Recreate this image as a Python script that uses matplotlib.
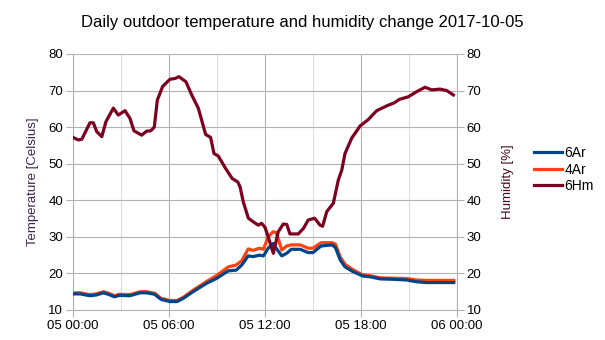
import matplotlib
matplotlib.use("Agg")
import matplotlib.pyplot as plt
from matplotlib.lines import Line2D

plt.rcParams['font.family'] = ['Liberation Sans', 'DejaVu Sans']

title = "Daily outdoor temperature and humidity change 2017-10-05"
series_names = ["6Ar", "4Ar", "6Hm"]
colors = ["#004586", "#ff420e", "#7e0021"]

# hours since 05 00:00
temp_hours = [0, 0.45, 1.05, 1.45, 1.9, 2.2, 2.6, 2.9, 3.55, 4.2, 4.6, 5.1, 5.5, 6.05, 6.5,
              6.9, 7.5, 8.35, 9.0, 9.7, 10.2, 10.55, 10.95, 11.25, 11.65, 11.9, 12.2, 12.5,
              12.7, 13.05, 13.35, 13.65, 14.2, 14.7, 15.0, 15.5, 16.2, 16.4, 16.7, 17.0,
              17.5, 18.1, 18.55, 19.2, 20.0, 20.85, 21.5, 22.1, 23.8]
temp_6Ar = [14.4, 14.4, 13.9, 14.1, 14.7, 14.3, 13.6, 14.0, 13.9, 14.7, 14.7, 14.3, 12.9,
            12.3, 12.3, 13.2, 15.0, 17.3, 18.7, 20.7, 20.9, 22.3, 24.8, 24.6, 25.0, 24.8,
            26.9, 28.2, 26.9, 24.8, 25.5, 26.6, 26.6, 25.7, 25.7, 27.5, 27.8, 27.1, 23.7,
            21.8, 20.5, 19.3, 19.1, 18.5, 18.4, 18.2, 17.7, 17.5, 17.5]
temp_4Ar = [14.7, 14.7, 14.2, 14.4, 15.0, 14.6, 13.9, 14.3, 14.2, 15.0, 15.0, 14.6, 13.2,
            12.6, 12.6, 13.5, 15.4, 17.8, 19.5, 21.8, 22.3, 23.5, 26.7, 26.3, 26.9, 26.6,
            30.0, 31.4, 31.2, 26.4, 27.5, 27.8, 27.8, 26.9, 26.9, 28.4, 28.4, 28.0, 24.5,
            22.5, 21.0, 19.6, 19.4, 18.8, 18.7, 18.6, 18.2, 18.1, 18.1]

hum_hours = [0, 0.33, 0.55, 1.06, 1.27, 1.48, 1.8, 2.06, 2.52, 2.83, 3.25, 3.56, 3.81, 4.29,
             4.6, 4.86, 5.08, 5.27, 5.6, 6.06, 6.38, 6.62, 7.06, 7.42, 7.83, 8.29, 8.6, 8.81,
             9.08, 9.54, 9.94, 10.3, 10.44, 10.64, 10.96, 11.27, 11.58, 11.79, 12.0, 12.2,
             12.52, 12.83, 13.14, 13.36, 13.56, 14.08, 14.4, 14.7, 15.1, 15.44, 15.6, 15.86,
             16.27, 16.58, 16.8, 17.0, 17.42, 17.94, 18.46, 18.98, 19.6, 20.1, 20.4, 20.96,
             21.48, 22.0, 22.42, 22.94, 23.36, 23.77]
hum_6Hm = [57.2, 56.5, 56.7, 61.2, 61.2, 58.8, 57.4, 61.5, 65.2, 63.3, 64.5, 62.4, 59.0, 57.8,
           58.9, 59.0, 60.0, 67.4, 71.1, 73.1, 73.3, 73.8, 72.4, 68.8, 65.2, 58.0, 57.2, 52.8,
           52.1, 48.7, 46.0, 45.0, 43.7, 39.6, 35.1, 34.1, 33.2, 33.7, 32.6, 30.0, 25.5, 31.4,
           33.5, 33.4, 30.8, 30.8, 32.3, 34.6, 35.1, 33.2, 32.9, 36.9, 39.2, 45.5, 48.3, 52.8,
           57.0, 60.3, 62.1, 64.5, 65.8, 66.7, 67.6, 68.3, 69.7, 70.9, 70.2, 70.4, 70.0, 68.8]

xtick_pos = [0, 6, 12, 18, 24]
xtick_labels = ["05 00:00", "05 06:00", "05 12:00", "05 18:00", "06 00:00"]
yticks = [10, 20, 30, 40, 50, 60, 70, 80]

fig = plt.figure(figsize=(6.05, 3.4), dpi=100)
ax = fig.add_axes([73/605, 1 - 310/340, (457-73)/605, (310-54)/340])
ax2 = ax.twinx()

grid_c = "#b3b3b3"
minor_c = "#dddddd"

for a in (ax, ax2):
    a.set_ylim(10, 80)
    a.set_yticks(yticks)
    for s in a.spines.values():
        s.set_visible(False)
    a.tick_params(axis='y', length=5, color=grid_c, labelsize=9.5, pad=2, labelcolor='#000000')

ax.set_xlim(0, 24)
ax.set_xticks(xtick_pos)
ax.set_xticklabels(xtick_labels)
ax.set_xticks([3, 9, 15, 21], minor=True)
ax.tick_params(axis='x', which='major', length=5, color=grid_c, labelsize=9.5, pad=2)
ax.tick_params(axis='x', which='minor', length=0)
ax.grid(True, which='major', color=grid_c, linewidth=0.8)
ax.grid(True, which='minor', axis='x', color=minor_c, linewidth=0.8)
ax.set_axisbelow(True)
ax.spines['left'].set_visible(True)
ax.spines['left'].set_color(grid_c)
ax.spines['bottom'].set_visible(True)
ax.spines['bottom'].set_color(grid_c)
ax2.spines['right'].set_visible(True)
ax2.spines['right'].set_color(grid_c)

ax.plot(temp_hours, temp_6Ar, color=colors[0], linewidth=2.3, zorder=3)
ax.plot(temp_hours, temp_4Ar, color=colors[1], linewidth=2.3, zorder=2)
ax2.plot(hum_hours, hum_6Hm, color=colors[2], linewidth=2.3, zorder=3)

ax.set_ylabel("Temperature [Celsius]", color="#3a2550", fontsize=9.5, labelpad=7)
ax2.set_ylabel("Humidity [%]", color="#4a0a1c", fontsize=9.5, labelpad=15)

fig.text(302.5/605, 1 - 22/340, title, ha='center', va='center', fontsize=12)

handles = [Line2D([0], [0], color=c, linewidth=2.3) for c in colors]
fig.legend(handles, series_names, loc='upper left', bbox_to_anchor=(524/605, 1 - 136/340),
           frameon=False, fontsize=10, handlelength=2.0, handletextpad=0.2,
           labelspacing=0.2, borderpad=0.2)

fig.savefig("out.png", dpi=100)
